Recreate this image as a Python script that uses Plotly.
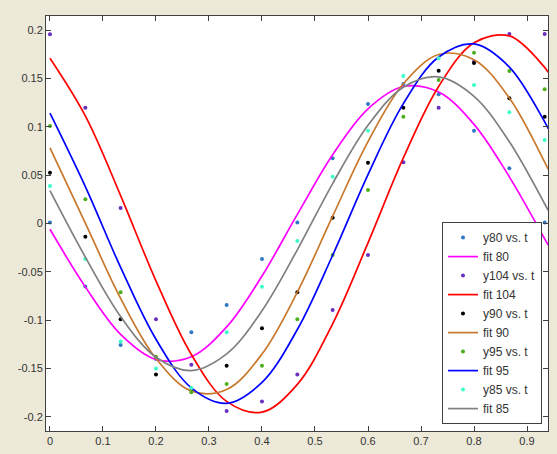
import plotly.graph_objects as go

# sample times
t = [0, 0.0667, 0.1333, 0.2, 0.2667, 0.3333, 0.4, 0.4667, 0.5333, 0.6,
     0.6667, 0.7333, 0.8, 0.8667, 0.9333]
fit_t = t + [0.94]

# measured data
y80 = [0.001, -0.065, -0.1256, -0.140, -0.1125, -0.0842, -0.0367, 0.001, 0.0674, 0.1235,
       0.1442, 0.1335, 0.0959, 0.057, 0.001]
y104 = [0.1956, 0.1197, 0.016, -0.099, -0.146, -0.1938, -0.184, -0.156, -0.0894, -0.0326,
        0.0632, 0.1197, 0.1672, 0.1959, 0.1959]
y90 = [0.0525, -0.0136, -0.099, -0.156, -0.172, -0.147, -0.1083, -0.0711, 0.006, 0.0628,
       0.1197, 0.158, 0.166, 0.1294, 0.1104]
y95 = [0.1008, 0.025, -0.0711, -0.1377, -0.1745, -0.166, -0.147, -0.099, -0.0326, 0.0346,
       0.1104, 0.1483, 0.1765, 0.1576, 0.1387]
y85 = [0.0388, -0.0367, -0.122, -0.150, -0.170, -0.1125, -0.0653, -0.018, 0.0484, 0.0959,
       0.1525, 0.1707, 0.1432, 0.1149, 0.0863]

# fitted curves (values read at fit_t)
fit80 = [-0.0060, -0.0655, -0.1147, -0.1406, -0.1378, -0.1069, -0.0543, 0.0094, 0.0711, 0.1185,
         0.1416, 0.1359, 0.1025, 0.0482, -0.0159, -0.0224]
fit104 = [0.1708, 0.1112, 0.0289, -0.0593, -0.1354, -0.1839, -0.1950, -0.1663, -0.1037, -0.0200,
          0.0678, 0.1417, 0.1868, 0.1939, 0.1614, 0.1562]
fit90 = [0.0782, 0.0004, -0.0775, -0.1396, -0.1732, -0.1716, -0.1350, -0.0709, 0.0076, 0.0846,
         0.1444, 0.1747, 0.1694, 0.1297, 0.0635, 0.0559]
fit95 = [0.1140, 0.0381, -0.0454, -0.1197, -0.1699, -0.1859, -0.1643, -0.1096, -0.0328, 0.0506,
         0.1239, 0.1721, 0.1856, 0.1617, 0.1051, 0.0981]
fit85 = [0.0340, -0.0347, -0.0962, -0.1382, -0.1520, -0.1348, -0.0902, -0.0272, 0.0413, 0.1015,
         0.1409, 0.1516, 0.1315, 0.0845, 0.0204, 0.0135]

x_ticks = [0, 0.1, 0.2, 0.3, 0.4, 0.5, 0.6, 0.7, 0.8, 0.9]
x_labels = ["0", "0.1", "0.2", "0.3", "0.4", "0.5", "0.6", "0.7", "0.8", "0.9"]
y_ticks = [-0.2, -0.15, -0.1, -0.05, 0, 0.05, 0.1, 0.15, 0.2]
y_labels = ["-0.2", "-0.15", "-0.1", "-0.05", "0", "0.05", "0.1", "0.15", "0.2"]

series = [
    ("y80 vs. t", y80, "#2f78c4", "fit 80", fit80, "#ff00ff"),
    ("y104 vs. t", y104, "#6a2fc0", "fit 104", fit104, "#ff0000"),
    ("y90 vs. t", y90, "#000000", "fit 90", fit90, "#c8782d"),
    ("y95 vs. t", y95, "#4fae1f", "fit 95", fit95, "#0000ff"),
    ("y85 vs. t", y85, "#3dffc8", "fit 85", fit85, "#808080"),
]

fig = go.Figure()
for dname, dvals, dcol, fname, fvals, fcol in series:
    fig.add_trace(go.Scatter(x=t, y=dvals, mode="markers", name=dname,
                             marker=dict(color=dcol, size=4, symbol="circle")))
    fig.add_trace(go.Scatter(x=fit_t, y=fvals, mode="lines", name=fname,
                             line=dict(color=fcol, width=1.7, shape="spline")))

axis_common = dict(showgrid=False, zeroline=False, showline=True, linecolor="#404040",
                   linewidth=1, mirror="ticks", ticks="inside", ticklen=5, automargin=False,
                   tickcolor="#404040", tickfont=dict(family="Liberation Sans", size=11, color="#333333"))

fig.update_layout(
    width=557, height=454,
    margin=dict(l=46, r=9, t=16, b=23),
    paper_bgcolor="#ECE9D8",
    plot_bgcolor="#ffffff",
    xaxis=dict(range=[-0.0075, 0.9396], tickvals=x_ticks, ticktext=x_labels, **axis_common),
    yaxis=dict(range=[-0.2145, 0.2145], tickvals=y_ticks, ticktext=y_labels, **axis_common),
    showlegend=True,
    legend=dict(x=0.988, y=0.26, xanchor="right", yanchor="middle",
                bgcolor="#ffffff", bordercolor="#404040", borderwidth=1,
                font=dict(family="Liberation Sans", size=12, color="#333333"),
                itemwidth=30, tracegroupgap=0),
)

fig.write_html("out.html", config={"displayModeBar": False},
               post_script="document.body.style.margin='0';document.body.style.background='#ECE9D8';")
